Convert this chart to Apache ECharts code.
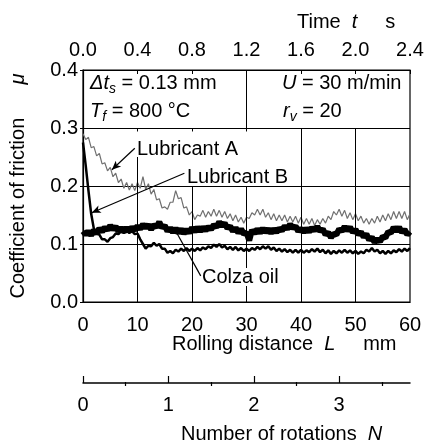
<!DOCTYPE html>
<html>
<head>
<meta charset="utf-8">
<script src="https://cdn.jsdelivr.net/npm/echarts@6/dist/echarts.min.js"></script>
<style>
  html, body { margin: 0; padding: 0; background: #fff; }
  #main { width: 427px; height: 446px; }
</style>
</head>
<body>
<div id="main"></div>
<script>
var distance = [
  0, 0.5, 1, 1.5, 2, 2.5, 3, 3.5, 4, 4.5, 5, 5.5, 6, 6.5, 7, 7.5, 8, 8.5, 9, 9.5,
  10, 10.5, 11, 11.5, 12, 12.5, 13, 13.5, 14, 14.5, 15, 15.5, 16, 16.5, 17, 17.5, 18, 18.5, 19, 19.5,
  20, 20.5, 21, 21.5, 22, 22.5, 23, 23.5, 24, 24.5, 25, 25.5, 26, 26.5, 27, 27.5, 28, 28.5, 29, 29.5,
  30, 30.5, 31, 31.5, 32, 32.5, 33, 33.5, 34, 34.5, 35, 35.5, 36, 36.5, 37, 37.5, 38, 38.5, 39, 39.5,
  40, 40.5, 41, 41.5, 42, 42.5, 43, 43.5, 44, 44.5, 45, 45.5, 46, 46.5, 47, 47.5, 48, 48.5, 49, 49.5,
  50, 50.5, 51, 51.5, 52, 52.5, 53, 53.5, 54, 54.5, 55, 55.5, 56, 56.5, 57, 57.5, 58, 58.5, 59, 59.5,
  60
];
var lubricantA = [
  0.290, 0.280, 0.284, 0.266, 0.268, 0.252, 0.256, 0.238, 0.240, 0.226, 0.232, 0.216, 0.222, 0.206, 0.212, 0.196, 0.206, 0.193, 0.204, 0.192,
  0.206, 0.196, 0.216, 0.194, 0.204, 0.186, 0.194, 0.176, 0.178, 0.162, 0.164, 0.160, 0.172, 0.172, 0.192, 0.178, 0.180, 0.162, 0.164, 0.150,
  0.156, 0.142, 0.150, 0.148, 0.158, 0.146, 0.156, 0.148, 0.160, 0.148, 0.158, 0.146, 0.156, 0.144, 0.152, 0.140, 0.150, 0.138, 0.146, 0.136,
  0.146, 0.144, 0.154, 0.150, 0.160, 0.150, 0.160, 0.146, 0.154, 0.142, 0.152, 0.140, 0.150, 0.140, 0.150, 0.138, 0.148, 0.138, 0.148, 0.136,
  0.146, 0.134, 0.144, 0.134, 0.144, 0.132, 0.142, 0.134, 0.144, 0.136, 0.148, 0.142, 0.156, 0.150, 0.160, 0.148, 0.158, 0.144, 0.154, 0.142,
  0.152, 0.140, 0.148, 0.136, 0.144, 0.134, 0.144, 0.136, 0.148, 0.138, 0.150, 0.140, 0.152, 0.142, 0.156, 0.144, 0.156, 0.144, 0.156, 0.142,
  0.152
];
var lubricantB = [
  0.275, 0.235, 0.192, 0.152, 0.126, 0.118, 0.116, 0.108, 0.108, 0.104, 0.110, 0.112, 0.118, 0.117, 0.122, 0.119, 0.123, 0.119, 0.122, 0.117,
  0.118, 0.108, 0.100, 0.092, 0.097, 0.096, 0.102, 0.097, 0.100, 0.092, 0.092, 0.085, 0.088, 0.084, 0.090, 0.087, 0.092, 0.088, 0.093, 0.088,
  0.092, 0.088, 0.093, 0.089, 0.094, 0.091, 0.096, 0.093, 0.099, 0.095, 0.100, 0.094, 0.097, 0.091, 0.095, 0.090, 0.095, 0.089, 0.093, 0.088,
  0.092, 0.088, 0.093, 0.090, 0.095, 0.091, 0.096, 0.092, 0.096, 0.090, 0.094, 0.088, 0.092, 0.087, 0.091, 0.086, 0.090, 0.085, 0.090, 0.085,
  0.090, 0.085, 0.089, 0.086, 0.091, 0.087, 0.092, 0.086, 0.090, 0.084, 0.089, 0.083, 0.088, 0.084, 0.089, 0.085, 0.090, 0.085, 0.089, 0.084,
  0.088, 0.083, 0.087, 0.084, 0.090, 0.087, 0.093, 0.087, 0.090, 0.084, 0.088, 0.083, 0.088, 0.084, 0.089, 0.086, 0.091, 0.087, 0.092, 0.088,
  0.093
];
var colzaOil = [
  0.122, 0.116, 0.122, 0.115, 0.124, 0.118, 0.127, 0.121, 0.129, 0.124, 0.132, 0.125, 0.130, 0.122, 0.128, 0.121, 0.128, 0.122, 0.129, 0.124,
  0.131, 0.126, 0.134, 0.128, 0.133, 0.125, 0.133, 0.129, 0.138, 0.128, 0.132, 0.122, 0.128, 0.120, 0.127, 0.119, 0.126, 0.118, 0.125, 0.119,
  0.128, 0.121, 0.129, 0.122, 0.129, 0.123, 0.130, 0.125, 0.133, 0.129, 0.138, 0.131, 0.136, 0.127, 0.131, 0.122, 0.128, 0.119, 0.126, 0.117,
  0.120, 0.106, 0.124, 0.118, 0.126, 0.119, 0.127, 0.120, 0.126, 0.119, 0.126, 0.120, 0.127, 0.123, 0.131, 0.126, 0.134, 0.127, 0.131, 0.122,
  0.127, 0.120, 0.127, 0.121, 0.128, 0.123, 0.130, 0.122, 0.126, 0.116, 0.120, 0.111, 0.118, 0.116, 0.126, 0.122, 0.130, 0.123, 0.129, 0.120,
  0.125, 0.116, 0.121, 0.112, 0.117, 0.107, 0.112, 0.103, 0.109, 0.104, 0.113, 0.111, 0.121, 0.119, 0.129, 0.122, 0.129, 0.120, 0.125, 0.116,
  0.121
];
// vertical rules inside the frame: [x, from, to]
var gridSegments = [
  [10, 0, 0.25], [20, 0, 0.2], [30, 0, 0.2], [40, 0, 0.3], [50, 0, 0.3],
  [30, 0.3, 0.4], [10, 0.3, 0.294], [20, 0.3, 0.294], [30, 0.3, 0.294]
];
var rotationLabels = [0, 1, 2, 3];
var rotationMinor = [0.5, 1.5, 2.5, 3.5];

function pairs(ys) {
  return ys.map(function (v, i) { return [distance[i], v]; });
}

var FONT = 'Liberation Sans';
var FS = 20;
var chart = echarts.init(document.getElementById('main'));

var markData = gridSegments.map(function (s) {
  return [{ coord: [s[0], s[1]] }, { coord: [s[0], s[2]] }];
});

var leaders = [
  [{ coord: [9.5, 0.265] }, { coord: [5.3, 0.228], symbol: 'arrow' }],
  [{ coord: [18.6, 0.222] }, { coord: [1.6, 0.154], symbol: 'arrow' }],
  [{ coord: [21.6, 0.045] }, { coord: [16.8, 0.126] }]
];

var ital = { fontStyle: 'italic', fontSize: FS, fontFamily: FONT, fill: '#000' };
var subRich = {
  i: { fontStyle: 'italic', fontSize: FS, fontFamily: FONT, fill: '#000', lineHeight: 26 },
  s: { fontStyle: 'italic', fontSize: 14, fontFamily: FONT, fill: '#000', lineHeight: 26, verticalAlign: 'bottom' },
  n: { fontSize: FS, fontFamily: FONT, fill: '#000', lineHeight: 26 }
};

var option = {
  animation: false,
  textStyle: { fontFamily: FONT },
  grid: [
    { left: 83, right: 17, top: 70, bottom: 144, show: true, borderColor: '#000', borderWidth: 1.2, backgroundColor: '#fff' },
    { left: 83, right: 17, top: 382, height: 1 }
  ],
  xAxis: [
    {
      type: 'value', gridIndex: 0, min: 0, max: 60, interval: 10,
      axisLine: { lineStyle: { color: '#000', width: 1.2 } },
      axisTick: { show: false },
      splitLine: { show: false },
      axisLabel: { color: '#000', fontSize: FS, margin: 13 }
    },
    {
      type: 'value', gridIndex: 0, position: 'top', min: 0, max: 2.4, interval: 0.4,
      axisLine: { lineStyle: { color: '#000', width: 1.2 } },
      axisTick: { inside: true, length: 4, lineStyle: { color: '#000' } },
      splitLine: { show: false },
      axisLabel: { color: '#000', fontSize: FS, margin: 10, formatter: function (v) { return v.toFixed(1); } }
    },
    {
      type: 'value', gridIndex: 1, min: 0, max: 3.83,
      axisLine: { lineStyle: { color: '#000', width: 1.5 } },
      axisTick: { inside: true, length: 7, customValues: rotationLabels, lineStyle: { color: '#000', width: 1.2 } },
      splitLine: { show: false },
      axisLabel: { color: '#000', fontSize: FS, margin: 12, customValues: rotationLabels }
    },
    {
      type: 'value', gridIndex: 1, min: 0, max: 3.83,
      axisLine: { show: false },
      axisTick: { inside: true, length: 4, customValues: rotationMinor, lineStyle: { color: '#000', width: 1.2 } },
      splitLine: { show: false },
      axisLabel: { show: false }
    }
  ],
  yAxis: [
    {
      type: 'value', gridIndex: 0, min: 0, max: 0.4, interval: 0.1,
      axisLine: { show: true, lineStyle: { color: '#000', width: 1.2 } },
      axisTick: { show: true, length: 3, lineStyle: { color: '#000' } },
      splitLine: { show: true, lineStyle: { color: '#000', width: 1 } },
      axisLabel: { color: '#000', fontSize: FS, margin: 5, formatter: function (v) { return v.toFixed(1); } },
      name: 'Coefficient of friction      {i|μ}',
      nameLocation: 'middle',
      nameGap: 55,
      nameTextStyle: {
        color: '#000', fontSize: FS, fontFamily: FONT,
        rich: { i: { fontStyle: 'italic', fontSize: FS, color: '#000', fontFamily: FONT } }
      }
    },
    { type: 'value', gridIndex: 1, show: false, min: 0, max: 1 }
  ],
  series: [
    {
      name: 'Lubricant A', type: 'line', xAxisIndex: 0, yAxisIndex: 0,
      data: pairs(lubricantA), showSymbol: false, z: 3,
      lineStyle: { color: '#707070', width: 1.2 }
    },
    {
      name: 'Lubricant B', type: 'line', xAxisIndex: 0, yAxisIndex: 0,
      data: pairs(lubricantB), showSymbol: false, z: 4,
      lineStyle: { color: '#000', width: 2.5 }
    },
    {
      name: 'Colza oil', type: 'line', xAxisIndex: 0, yAxisIndex: 0,
      data: pairs(colzaOil), showSymbol: false, z: 5,
      lineStyle: { color: '#000', width: 6 }
    },
    {
      name: 'grid', type: 'line', xAxisIndex: 0, yAxisIndex: 0, data: [], z: 1,
      markLine: {
        silent: true, symbol: 'none', animation: false,
        label: { show: false },
        lineStyle: { color: '#000', width: 1, type: 'solid' },
        data: markData
      }
    },
    {
      name: 'leaders', type: 'line', xAxisIndex: 0, yAxisIndex: 0, data: [], z: 6,
      markLine: {
        silent: true, symbol: 'none', symbolSize: [6, 9], animation: false,
        label: { show: false },
        lineStyle: { color: '#000', width: 1.2, type: 'solid' },
        data: leaders
      }
    }
  ],
  graphic: [
    {
      type: 'text', left: 297, top: 12,
      style: { text: 'Time  {i|t}     s', fill: '#000', font: FS + 'px ' + FONT, rich: { i: ital } }
    },
    {
      type: 'text', left: 172, top: 334,
      style: { text: 'Rolling distance  {i|L}     mm', fill: '#000', font: FS + 'px ' + FONT, rich: { i: ital } }
    },
    {
      type: 'text', left: 181, top: 424,
      style: { text: 'Number of rotations  {i|N}', fill: '#000', font: FS + 'px ' + FONT, rich: { i: ital } }
    },
    {
      type: 'text', left: 90, top: 73, z: 10,
      style: { text: '{i|Δt}{s|s}{n| = 0.13 mm}', fill: '#000', font: FS + 'px ' + FONT, rich: subRich }
    },
    {
      type: 'text', left: 90, top: 101, z: 10,
      style: { text: '{i|T}{s|f}{n| = 800 °C}', fill: '#000', font: FS + 'px ' + FONT, rich: subRich }
    },
    {
      type: 'text', left: 282, top: 73, z: 10,
      style: { text: '{i|U}{n| = 30 m/min}', fill: '#000', font: FS + 'px ' + FONT, rich: subRich }
    },
    {
      type: 'text', left: 283, top: 101, z: 10,
      style: { text: '{i|r}{s|v}{n| = 20}', fill: '#000', font: FS + 'px ' + FONT, rich: subRich }
    },
    {
      type: 'text', left: 137, top: 139, z: 10,
      style: { text: 'Lubricant A', fill: '#000', font: FS + 'px ' + FONT }
    },
    {
      type: 'text', left: 187, top: 167, z: 10,
      style: { text: 'Lubricant B', fill: '#000', font: FS + 'px ' + FONT }
    },
    {
      type: 'text', left: 202, top: 267, z: 10,
      style: { text: 'Colza oil', fill: '#000', font: FS + 'px ' + FONT, backgroundColor: '#fff', lineHeight: 18 }
    }
  ]
};
chart.setOption(option);
</script>
</body>
</html>
